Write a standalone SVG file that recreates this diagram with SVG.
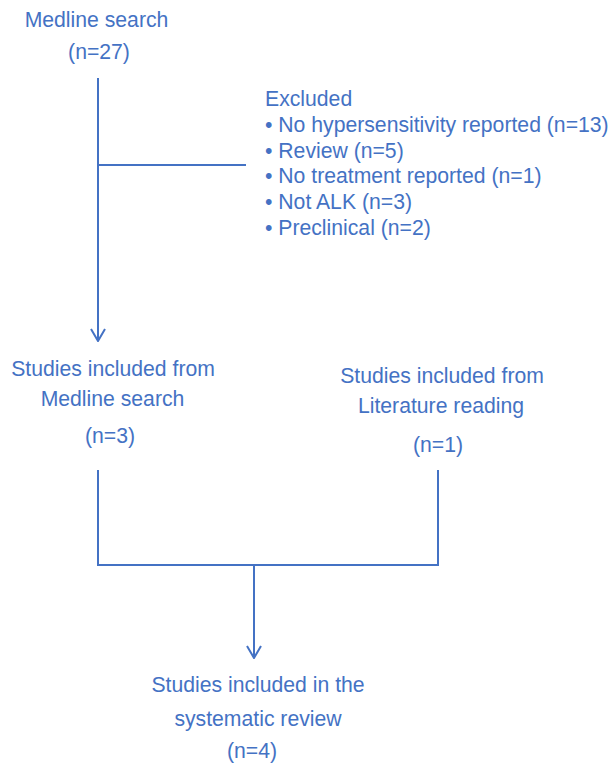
<svg xmlns="http://www.w3.org/2000/svg" width="610" height="766" viewBox="0 0 610 766">
<style>
text{font-family:"Liberation Sans",Arial,sans-serif;font-size:21.2px;fill:#4472C4}
.c{text-anchor:middle}
.ln{stroke:#4472C4;stroke-width:2;fill:none}
</style>
<defs>
<marker id="ah" viewBox="0 0 14 16" refX="13" refY="8" markerWidth="14" markerHeight="16" markerUnits="userSpaceOnUse" orient="auto">
<path d="M1,1 L13,8 L1,15" fill="none" stroke="#4472C4" stroke-width="2"/>
</marker>
</defs>
<rect width="610" height="766" fill="#fff"/>
<g id="connectors">
<path class="ln" d="M98,78 V341" marker-end="url(#ah)"/>
<path class="ln" d="M98,165 H246"/>
<path class="ln" d="M98,470 V565 H438 V470"/>
<path class="ln" d="M254,565 V658" marker-end="url(#ah)"/>
</g>
<g id="medline">
<text class="c" x="96.5" y="27">Medline search</text>
<text class="c" x="99" y="59">(n=27)</text>
</g>
<g id="excluded">
<text x="265" y="106">Excluded</text>
<text x="265" y="132">• No hypersensitivity reported (n=13)</text>
<text x="265" y="157.5">• Review (n=5)</text>
<text x="265" y="183">• No treatment reported (n=1)</text>
<text x="265" y="209">• Not ALK (n=3)</text>
<text x="265" y="234.5">• Preclinical (n=2)</text>
</g>
<g id="included-medline">
<text class="c" x="113" y="376">Studies included from</text>
<text class="c" x="112.5" y="406">Medline search</text>
<text class="c" x="110" y="443">(n=3)</text>
</g>
<g id="included-literature">
<text class="c" x="442" y="383">Studies included from</text>
<text class="c" x="441" y="413">Literature reading</text>
<text class="c" x="438" y="452">(n=1)</text>
</g>
<g id="systematic-review">
<text class="c" x="258" y="692">Studies included in the</text>
<text class="c" x="258" y="726">systematic review</text>
<text class="c" x="252" y="758">(n=4)</text>
</g>
</svg>
